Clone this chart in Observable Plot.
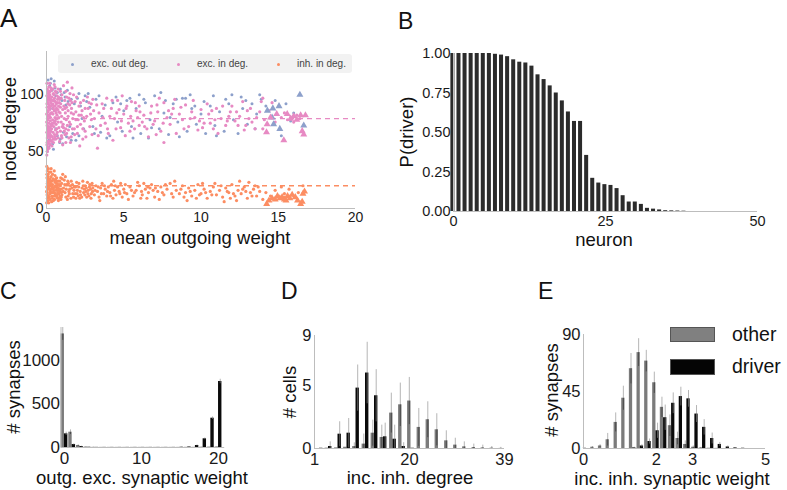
<!DOCTYPE html>
<html><head><meta charset="utf-8">
<script src="https://cdn.jsdelivr.net/npm/d3@7"></script>
<script src="https://cdn.jsdelivr.net/npm/@observablehq/plot@0.6"></script>
<style>
html,body{margin:0;padding:0;background:#fff;overflow:hidden;width:787px;height:490px;}
body{position:relative;font-family:"Liberation Sans",Arial,sans-serif;color:#111;}
.panel{position:absolute;}
.lbl{position:absolute;line-height:1;color:#111;}
.ax{position:absolute;font-size:18.5px;white-space:nowrap;line-height:1;transform:translate(-50%,-50%);}
.axv{transform:translate(-50%,-50%) rotate(-90deg);}
.lgA{position:absolute;font-size:10px;color:#444;line-height:1;white-space:nowrap;}
</style></head><body>
<div id="pA" class="panel" style="left:0;top:0"></div>
<div id="pB" class="panel" style="left:380px;top:0"></div>
<div id="pC" class="panel" style="left:0;top:270px"></div>
<div id="pD" class="panel" style="left:265px;top:270px"></div>
<div id="pE" class="panel" style="left:520px;top:270px"></div>
<script>
// ---------- Panel A data (mean outgoing weight, node degree) ----------
const excOutDeg = [[0.05,50],[0.1,113],[0.15,54],[0.2,108],[0.3,114],[0.4,57],[0.5,112],[0.35,104],[0.45,52],[0.6,99],[0.8,97],[1.0,95],[1.2,98],[1.4,94],[0.7,64],[0.9,61],[1.1,67],[1.3,63],[1.6,96],[1.8,92],[2.0,97],[2.2,90],[1.7,66],[2.1,64],[2.4,70],[2.6,94],[2.8,89],[3.0,72],[3.2,96],[3.5,67],[3.8,91],[4.1,64],[4.3,93],[4.6,76],[4.9,68],[5.2,95],[5.5,72],[5.8,88],[6.1,66],[6.4,93],[6.7,78],[7.0,99],[7.3,70],[7.6,84],[7.9,65],[8.2,92],[8.5,76],[8.8,97],[9.1,68],[9.4,88],[9.7,74],[10.0,83],[10.3,66],[10.6,90],[10.9,73],[11.2,85],[11.5,68],[11.8,92],[12.1,78],[12.4,66],[12.7,88],[13.0,74],[13.3,92],[13.6,83],[13.9,96],[14.2,90],[3.6,81],[5.0,86],[6.8,71],[8.0,80],[9.6,90],[2.3,79],[1.5,72],[0.6,70],[0.4,88],[0.9,105],[1.9,60],[2.7,101],[4.5,98],[6.0,100],[7.4,102],[9.0,97],[10.8,99],[12.0,100],[12.9,95],[13.5,70],[11.0,64],[8.6,63],[5.6,62],[15.8,77],[15.5,92],[16.0,84],
[0.25,110],[0.55,106],[0.7,102],[0.95,100],[1.15,102],[1.35,104],[0.85,58],[1.05,57],[1.6,60],[2.5,99],[3.1,66],[3.4,99],[3.9,62],[4.8,92],[5.4,97],[6.3,96],[6.6,62],[7.7,95],[8.4,96],[9.3,100],[10.2,94],[11.6,96],[12.6,98],[13.8,100],[14.8,95],[15.2,64],[1.25,91],[2.1,101],[0.15,60],[0.5,95]];
const excInDeg = [[0.02,47],[0.08,52],[0.03,56],[0.12,59],[0.05,62],[0.15,64],[0.02,67],[0.1,69],[0.2,71],[0.04,73],[0.14,75],[0.25,77],[0.06,79],[0.18,81],[0.01,83],[0.11,85],[0.22,87],[0.04,89],[0.16,91],[0.27,93],[0.07,95],[0.19,97],[0.02,99],[0.12,101],[0.24,103],[0.06,105],[0.15,107],[0.03,110],[0.28,68],[0.3,84],[0.29,96],[0.27,60],[0.09,64],[0.21,66],[0.1,78],[0.2,88],[0.1,93],[0.22,100],[0.03,92],[0.07,86],[0.13,72],[0.28,74],[0.19,57],[0.26,90],[0.26,80],[0.01,76],[0.13,82],[0.23,95],[0.09,98],[0.17,102],[0.04,58],[0.1,54],[0.21,62],[0.15,68],[0.07,71],[0.3,64],[0.3,104],
[0.35,55],[0.45,58],[0.6,61],[0.38,63],[0.52,65],[0.7,67],[0.33,70],[0.47,72],[0.62,74],[0.75,76],[0.4,78],[0.55,80],[0.68,82],[0.36,84],[0.5,86],[0.65,88],[0.78,90],[0.42,92],[0.57,94],[0.72,96],[0.34,98],[0.48,100],[0.63,102],[0.4,105],[0.55,107],[0.8,71],[0.8,85],[0.58,69],[0.44,88],[0.7,93],[0.6,79],[0.75,62],[0.46,95],[0.38,75],[0.52,76],[0.66,70],[0.42,67],[0.56,90],[0.68,99],[0.36,91],[0.5,61],[0.62,84],
[0.85,59],[1.0,62],[1.2,65],[0.9,68],[1.1,71],[1.35,73],[0.95,76],[1.15,79],[1.4,81],[0.88,84],[1.05,87],[1.3,89],[0.92,92],[1.18,95],[1.45,97],[1.0,100],[1.25,103],[1.4,86],[1.3,66],[1.1,108],[1.5,91],[1.48,76],[0.98,81],[1.22,84],[1.35,111],[0.85,96],[1.08,74],[1.28,78],[0.9,103],
[1.6,63],[1.8,70],[2.0,66],[2.2,74],[1.7,79],[1.9,85],[2.1,90],[2.4,95],[1.65,93],[2.6,81],[2.8,72],[2.5,68],[2.3,86],[2.9,92],[1.75,100],[2.05,78],[2.7,88],[2.95,65],[1.55,58],[2.35,61],[2.65,98],[2.15,55],[1.85,94],[2.45,77],[2.85,83],[3.0,96],[1.6,84],[2.25,82],
[3.2,70],[3.4,84],[3.6,92],[3.8,75],[4.0,66],[4.2,88],[4.4,79],[4.6,95],[4.8,71],[5.0,83],[5.2,90],[5.4,68],[5.6,77],[5.8,86],[6.0,73],[3.3,53],[4.3,60],[3.9,97],[4.7,87],[5.1,64],[5.5,94],[5.9,80],[3.1,79],[4.1,81],[5.3,75],[3.7,88],[4.9,99],[6.0,90],[3.5,73],[4.5,70],[5.7,70],
[6.3,82],[6.5,70],[6.8,90],[7.0,77],[7.2,85],[7.4,68],[7.6,93],[7.8,80],[8.0,74],[8.2,88],[8.4,66],[8.6,83],[8.8,78],[9.0,91],[9.2,72],[9.4,85],[9.6,80],[9.8,69],[10.0,87],[6.6,63],[7.3,97],[8.3,96],[9.5,95],[6.9,74],[7.9,86],[8.9,70],[9.9,77],[7.6,58],[7.1,65],[6.2,76],
[10.2,75],[10.5,83],[10.8,70],[11.0,88],[11.3,79],[11.6,73],[11.9,85],[12.2,77],[12.5,81],[12.8,69],[13.0,86],[13.3,76],[13.6,80],[13.9,94],[10.4,92],[11.1,66],[12.0,90],[12.7,94],[13.5,70],[10.9,78],[11.8,81],[12.4,73],[13.1,79],[13.8,85],
[14.1,78],[14.4,86],[14.8,76],[15.2,80],[15.6,78],[16.0,76],[16.4,79],[14.6,93],[15.4,84],[16.2,82],[14.0,97],[15.8,80],
[0.05,50],[0.16,53],[0.24,56],[0.33,59],[0.43,61],[0.55,63],[0.66,65],[0.09,66],[0.18,70],[0.26,72],[0.35,73],[0.45,75],[0.57,77],[0.69,79],[0.8,80],[0.08,81],[0.24,83],[0.42,83],[0.58,86],[0.73,87],[0.9,89],[0.14,89],[0.3,90],[0.47,90],[0.64,92],[0.83,93],[0.11,96],[0.37,95],[0.52,97],[0.78,98],[0.2,99],[0.44,101],[0.58,103],[0.75,105],[0.28,106],[0.1,103],[0.5,109],[0.2,110],[0.97,64],[1.15,68],[1.02,72],[1.25,70],[1.42,69],[1.55,74],[1.2,88],[1.38,92],[1.55,95],[1.62,88],[1.75,83],[1.9,78],[2.0,72],[2.1,82],[1.68,70],[1.82,65],[1.95,98],[2.2,93],[2.35,70],[2.5,88],[2.4,80],[1.12,90],[0.95,97],[1.3,98],[1.52,101],[1.65,106],[1.05,56],[1.25,58],[1.45,62],[2.55,63],[2.75,93],[2.9,78],[3.05,86],[3.25,91],[3.35,64],[3.65,80],[3.95,70],[4.25,95],[4.55,84],[4.85,77],[5.15,88],[5.45,81],[5.75,93],[6.05,85],[6.35,72],[6.75,84],[7.15,91],[7.55,75],[8.1,83],[8.7,89],[9.3,79],[10.1,71],[10.7,86],[11.4,90],[12.3,85],[13.2,88],[14.0,70],[10.6,75],[11.7,77],[12.9,73]];
const inhInDeg = [[0.02,37],[0.05,33],[0.1,30],[0.03,27],[0.15,25],[0.05,22],[0.2,20],[0.08,17],[0.25,15],[0.04,12],[0.18,10],[0.1,7],[0.3,28],[0.35,24],[0.4,21],[0.45,18],[0.5,14],[0.55,11],[0.38,9],[0.6,26],[0.65,22],[0.7,19],[0.75,16],[0.8,13],[0.85,24],[0.9,20],[0.95,17],[1.0,12],[0.28,32],[0.12,35],[0.22,13],[0.32,17],[0.48,25],[0.58,20],[0.68,12],[0.78,21],[0.88,15],[0.98,22],[0.15,5],[0.45,7],[0.72,9],[0.02,19],[0.06,9],[0.14,22],[0.24,26],[0.34,11],[0.52,8],[0.62,16],[0.82,9],[0.92,27],[0.01,15],[0.09,26],[0.19,17],[0.29,21],[0.42,14],[0.55,29],[0.66,18],[0.76,24],[0.86,11],[0.96,14],
[1.1,18],[1.2,14],[1.3,21],[1.4,11],[1.5,17],[1.6,24],[1.7,13],[1.8,19],[1.9,9],[2.0,16],[2.1,22],[2.2,12],[2.3,18],[2.4,14],[2.5,20],[2.6,10],[2.7,16],[2.8,21],[2.9,13],[3.0,18],[1.15,25],[1.35,8],[1.55,20],[1.75,10],[1.95,23],[2.15,9],[2.35,24],[2.55,15],[2.75,11],[2.95,22],[1.05,30],[1.25,10],[1.45,15],[1.65,18],[1.85,13],[2.05,11],[2.45,17],[2.65,23],[2.85,17],
[3.1,12],[3.2,20],[3.3,15],[3.4,10],[3.5,18],[3.6,22],[3.7,13],[3.8,17],[3.9,11],[4.0,19],[4.1,14],[4.2,21],[4.3,9],[4.4,16],[4.5,12],[4.6,19],[4.7,15],[4.8,22],[4.9,10],[5.0,17],[5.2,13],[5.4,19],[5.6,11],[5.8,16],[6.0,20],[6.2,12],[6.4,17],[6.6,14],[6.8,21],[7.0,10],[5.3,8],[5.9,23],[6.5,9],[4.35,24],[5.7,14],[6.3,22],[6.9,16],[3.45,7],[5.1,21],[6.1,9],[6.7,18],
[7.2,15],[7.4,19],[7.6,12],[7.8,17],[8.0,22],[8.2,10],[8.4,16],[8.6,13],[8.8,20],[9.0,14],[9.2,18],[9.4,11],[9.6,16],[9.8,21],[10.0,13],[10.2,17],[10.4,9],[10.6,15],[10.8,19],[11.0,12],[11.2,16],[11.4,10],[11.6,18],[11.8,14],[12.0,21],[12.2,11],[12.4,16],[12.6,13],[12.8,19],[13.0,9],[13.2,14],[13.4,17],[13.6,11],[13.8,15],[14.0,8],[7.3,8],[8.3,24],[9.1,7],[10.1,22],[11.5,6],[12.5,24],[13.5,20],[8.9,10],[9.9,12],[10.9,22],[11.9,9],[12.9,15],[7.7,21],[13.1,23],[12.3,7],
[14.2,14],[14.5,11],[14.8,16],[15.1,9],[15.4,13],[15.7,17],[16.0,11],[16.3,14],[16.6,20],[15.2,19],
[0.03,30],[0.11,28],[0.2,24],[0.27,22],[0.37,19],[0.47,16],[0.57,13],[0.67,10],[0.77,7],[0.07,24],[0.16,19],[0.26,17],[0.36,14],[0.46,11],[0.56,23],[0.66,27],[0.76,18],[0.86,21],[0.96,10],[0.05,14],[0.13,11],[0.23,8],[0.33,6],[0.43,26],[0.53,19],[0.63,24],[0.73,14],[0.83,17],[0.93,8],[0.01,5],[0.19,32],[0.39,30],[1.08,15],[1.18,21],[1.28,17],[1.38,24],[1.48,13],[1.58,9],[1.68,21],[1.78,16],[1.88,19],[1.98,13],[2.08,19],[2.18,15],[2.28,10],[2.38,20],[2.48,12],[2.58,18],[2.68,13],[2.78,19],[2.88,9],[2.98,15],[3.15,16],[3.35,19],[3.55,13],[3.75,20],[3.95,15],[4.15,11],[4.45,20],[4.75,13],[5.05,14],[5.5,16],[6.15,15],[6.55,19],[7.05,18],[7.5,14],[8.1,13],[8.7,17],[9.3,15],[9.7,9],[10.3,14],[10.7,12],[11.3,20],[11.7,15],[12.1,13],[12.7,17],[13.3,11],[13.7,19],[1.02,26],[1.22,28],[1.42,22],[0.5,33],[0.3,35]];
const excOutTri = [[16.4,100],[15.05,90],[14.65,88],[14.3,86],[14.6,80],[15.1,70],[16.65,73],[14.7,74]];
const excInTri = [[14.28,74],[14.24,67],[14.5,80],[15.36,60],[15.58,83],[16.0,81],[16.2,78],[16.45,82],[16.76,82],[16.65,65],[16.55,68],[14.9,83],[15.8,79]];
const inhInTri = [[14.25,4],[14.4,7],[14.6,9],[14.8,8],[14.95,11],[15.1,9],[15.25,10],[15.4,8],[15.6,11],[15.75,9],[15.9,12],[16.1,10],[16.25,7],[16.45,4],[16.6,13],[16.7,15],[16.55,6],[15.5,7]];
const excMeanDeg = 79;
const inhMeanDeg = 20;
const seriesA = ["exc. out deg.", "exc. in deg.", "inh. in deg."];

// ---------- Panel B data ----------
const neuronIdx = [0,1,2,3,4,5,6,7,8,9,10,11,12,13,14,15,16,17,18,19,20,21,22,23,24,25,26,27,28,29,30,31,32,33,34,35,36,37,38];
const pDriver = [1.00,1.00,1.00,1.00,1.00,1.00,1.00,0.995,0.99,0.98,0.96,0.945,0.94,0.92,0.865,0.835,0.795,0.75,0.70,0.63,0.57,0.57,0.355,0.21,0.18,0.17,0.165,0.145,0.10,0.06,0.06,0.045,0.02,0.015,0.01,0.005,0.004,0.003,0.002];

// ---------- Panel C data ----------
const weightBins = [0,1,2,3,4,5,6,7,8,9,10,11,12,13,14,15,16,17,18,19,20];
const cOther     = [1306,176,23,5,2,1.5,1.5,1.5,1.5,1.5,1.5,1.5,1.5,1.5,1.5,1.5,2,2,3,4,6];
const cOtherErr  = [74,27,8,3,1,0,0,0,0,0,0,0,0,0,0,0,0,0,1,1,2];
const cDriver    = [157,34,11,3,1.5,1.5,1.5,1.5,1.5,1.5,1.5,1.5,1.5,1.5,1.5,3,6,23,100,337,759];
const cDriverErr = [19,8,4,1,0,0,0,0,0,0,0,0,0,0,0,2,4,6,10,15,26];

// ---------- Panel D data ----------
const degBins    = [2.0,3.8,5.7,7.5,9.3,11.2,13.0,14.8,16.7,18.5,20.3,22.2,24.0,25.8,27.7,29.5,31.3,33.2,35.0,36.8,38.6];
const dOther     = [0,0.03,0.05,0.1,0.15,0.35,1.22,0.88,2.82,3.48,3.78,1.68,2.29,1.49,0.61,0.27,0.13,0.08,0.05,0.03,0.01];
const dOtherErr  = [0,0,0,0,0.3,0.8,1.04,0.98,1.59,1.73,1.88,1.51,1.43,1.28,0.8,0.55,0.4,0.27,0.22,0.13,0.08];
const dDriver    = [0.02,0.16,1.14,1.22,4.81,6.01,4.2,0.93,0.74,0.16,0.02,0,0,0,0,0,0,0,0,0,0];
const dDriverErr = [0,0.37,0.99,1.17,1.84,2.45,2.08,1.09,1.12,0.3,0,0,0,0,0,0,0,0,0,0,0];

// ---------- Panel E data ----------
const wBins      = [0.08,0.29,0.50,0.71,0.93,1.14,1.35,1.56,1.77,1.99,2.20,2.42,2.63,2.84,3.06,3.27,3.49,3.70,3.92,4.13,4.34];
const eOther     = [0.3,1,2,6.9,20.6,39.7,63,75.7,69,51.9,32.5,18,7.9,3.2,1,0.4,0.2,0.1,0,0,0];
const eOtherErr  = [0,0.5,1,5,7.5,9.5,12,11,8.5,8.4,8,8.5,5,2.8,1,0.5,0,0,0,0,0];
const eDriver    = [0,0,0,0,0,0,0.5,2,5.5,14,24.3,35.7,41,39.2,27.2,16.7,7.9,3.2,1.2,0.5,0.2];
const eDriverErr = [0,0,0,0,0,0,0.5,1,2,6,10,8.2,7.4,6.6,6.7,6.1,4.3,1.6,0.8,0.3,0];
const legendE = ["other", "driver"];

// ---------- styling ----------
const FONT = "Liberation Sans, Arial, sans-serif";
const BLUE = "#8da0cb", PINK = "#e78ac3", ORANGE = "#fc8d62";
const SPINE = "#bdbdbd";
const GRAYBAR = "#7b7b7b", BLACKBAR = "#0a0a0a";
const ERRUP = "#b5b5b5";
const pt = a => ({x: a[0], y: a[1]});

function baseStyle(fs) {
  return {fontFamily: FONT, fontSize: fs + "px", color: "#1a1a1a", background: "none", overflow: "visible"};
}

// ---------- Panel A ----------
const plotA = Plot.plot({
  width: 370, height: 245, marginLeft: 46, marginRight: 15, marginTop: 51, marginBottom: 37,
  style: baseStyle(14),
  x: {domain: [0, 20]}, y: {domain: [0, 138]},
  marks: [
    Plot.ruleY([excMeanDeg], {x1: 0, x2: 20, stroke: PINK, strokeWidth: 1.3, strokeDasharray: "5,4"}),
    Plot.ruleY([inhMeanDeg], {x1: 0, x2: 20, stroke: ORANGE, strokeWidth: 1.3, strokeDasharray: "5,4"}),
    Plot.dot(excOutDeg.map(pt), {x: "x", y: "y", r: 1.5, fill: BLUE}),
    Plot.dot(excInDeg.map(pt), {x: "x", y: "y", r: 1.6, fill: PINK}),
    Plot.dot(inhInDeg.map(pt), {x: "x", y: "y", r: 1.6, fill: ORANGE}),
    Plot.dot(excOutTri.map(pt), {x: "x", y: "y", r: 2.6, symbol: "triangle", fill: BLUE}),
    Plot.dot(excInTri.map(pt), {x: "x", y: "y", r: 2.6, symbol: "triangle", fill: PINK}),
    Plot.dot(inhInTri.map(pt), {x: "x", y: "y", r: 2.6, symbol: "triangle", fill: ORANGE}),
    Plot.ruleX([0], {stroke: SPINE}),
    Plot.ruleY([0], {stroke: SPINE}),
    Plot.axisX({ticks: [0, 5, 10, 15, 20], tickSize: 0, tickPadding: 4, label: null}),
    Plot.axisY({ticks: [0, 50, 100], tickSize: 0, tickPadding: 3, label: null})
  ]
});
document.getElementById("pA").append(plotA);

// ---------- Panel B ----------
const rowsB = neuronIdx.map((i, k) => ({i, p: pDriver[k]}));
const plotB = Plot.plot({
  width: 400, height: 250, marginLeft: 73, marginRight: 23, marginTop: 53, marginBottom: 39,
  style: baseStyle(14.5),
  x: {domain: [0, 50]}, y: {domain: [0, 1]},
  marks: [
    Plot.rect(rowsB, {x1: d => d.i - 0.43, x2: d => d.i + 0.23, y1: () => 0, y2: "p", fill: "#2b2b2b"}),
    Plot.ruleX([0], {stroke: SPINE}),
    Plot.ruleY([0], {stroke: SPINE}),
    Plot.axisX({ticks: [0, 25, 50], tickSize: 0, tickPadding: 4, label: null}),
    Plot.axisY({ticks: [0, 0.25, 0.5, 0.75, 1], tickFormat: ".2f", tickSize: 0, tickPadding: 3, label: null})
  ]
});
document.getElementById("pB").append(plotB);

// ---------- grouped bar helper ----------
function groupedMarks(bins, other, otherErr, driver, driverErr, w) {
  const rows = bins.map((b, k) => ({b, o: other[k], oe: otherErr[k], d: driver[k], de: driverErr[k]}));
  const eo = rows.filter(r => r.oe > 0), ed = rows.filter(r => r.de > 0);
  return [
    Plot.rect(rows, {x1: r => r.b - w, x2: r => r.b, y1: () => 0, y2: "o", fill: GRAYBAR}),
    Plot.rect(rows, {x1: r => r.b, x2: r => r.b + w, y1: () => 0, y2: "d", fill: BLACKBAR}),
    Plot.ruleX(eo, {x: r => r.b - w / 2, y1: "o", y2: r => r.o + r.oe, stroke: ERRUP, strokeWidth: 1}),
    Plot.ruleX(eo, {x: r => r.b - w / 2, y1: r => Math.max(0, r.o - r.oe), y2: "o", stroke: "#4a4a4a", strokeWidth: 1}),
    Plot.ruleX(ed, {x: r => r.b + w / 2, y1: "d", y2: r => r.d + r.de, stroke: ERRUP, strokeWidth: 1}),
    Plot.ruleX(ed, {x: r => r.b + w / 2, y1: r => Math.max(0, r.d - r.de), y2: "d", stroke: "#5a5a5a", strokeWidth: 1})
  ];
}

// ---------- Panel C ----------
const plotC = Plot.plot({
  width: 265, height: 220, marginLeft: 60.5, marginRight: 40.8, marginTop: 57, marginBottom: 43,
  style: baseStyle(17),
  x: {domain: [-0.45, 20.8]}, y: {domain: [0, 1380]},
  marks: [
    ...groupedMarks(weightBins, cOther, cOtherErr, cDriver, cDriverErr, 0.44),
    Plot.ruleX([-0.45], {stroke: SPINE}),
    Plot.ruleY([0], {stroke: SPINE}),
    Plot.axisX({ticks: [0, 10, 20], tickFormat: "d", tickSize: 0, tickPadding: 4, label: null}),
    Plot.axisY({ticks: [0, 500, 1000], tickFormat: "d", tickSize: 0, tickPadding: 1, label: null})
  ]
});
document.getElementById("pC").append(plotC);

// ---------- Panel D ----------
const plotD = Plot.plot({
  width: 270, height: 220, marginLeft: 49, marginRight: 31, marginTop: 65, marginBottom: 42,
  style: baseStyle(16.5),
  x: {domain: [1, 39]}, y: {domain: [0, 9]},
  marks: [
    ...groupedMarks(degBins, dOther, dOtherErr, dDriver, dDriverErr, 0.68),
    Plot.ruleX([1], {stroke: SPINE}),
    Plot.ruleY([0], {stroke: SPINE}),
    Plot.axisX({ticks: [1, 20, 39], tickFormat: "d", tickSize: 0, tickPadding: 5, label: null}),
    Plot.axisY({ticks: [0, 5, 9], tickFormat: "d", tickSize: 0, tickPadding: 3, label: null})
  ]
});
document.getElementById("pD").append(plotD);

// ---------- Panel E ----------
const plotE = Plot.plot({
  width: 267, height: 220, marginLeft: 63, marginRight: 22, marginTop: 64, marginBottom: 42,
  style: baseStyle(16.5),
  x: {domain: [0, 5]}, y: {domain: [0, 90]},
  marks: [
    ...groupedMarks(wBins, eOther, eOtherErr, eDriver, eDriverErr, 0.09),
    Plot.ruleX([0], {stroke: SPINE}),
    Plot.ruleY([0], {stroke: SPINE}),
    Plot.axisX({ticks: [0, 2, 3, 5], tickFormat: "d", tickSize: 0, tickPadding: 5, label: null}),
    Plot.axisY({ticks: [0, 45, 90], tickFormat: "d", tickSize: 0, tickPadding: 3, label: null})
  ]
});
document.getElementById("pE").append(plotE);

// ---------- HTML text: panel letters, axis titles, legends ----------
function addText(txt, cls, css) {
  const d = document.createElement("div");
  d.className = cls; d.style.cssText = css; d.textContent = txt;
  document.body.append(d);
  return d;
}
addText("A", "lbl", "left:0px;top:5px;font-size:26px");
addText("B", "lbl", "left:398px;top:10px;font-size:23px");
addText("C", "lbl", "left:0px;top:280px;font-size:23px");
addText("D", "lbl", "left:281px;top:280px;font-size:23px");
addText("E", "lbl", "left:538px;top:280px;font-size:23px");

addText("mean outgoing weight", "ax", "left:200px;top:238px");
addText("node degree", "ax axv", "left:10px;top:129px");
addText("neuron", "ax", "left:604px;top:240px");
addText("P(driver)", "ax axv", "left:407px;top:132px");
addText("outg. exc. synaptic weight", "ax", "left:142px;top:478px");
addText("# synapses", "ax axv", "left:14px;top:387px");
addText("inc. inh. degree", "ax", "left:410px;top:478px");
addText("# cells", "ax axv", "left:290px;top:392px");
addText("inc. inh. synaptic weight", "ax", "left:672px;top:479px");
addText("# synapses", "ax axv", "left:552px;top:390px");

// legend A
const lgBg = document.createElement("div");
lgBg.style.cssText = "position:absolute;left:58px;top:54px;width:294px;height:19px;background:#f2f2f2;border-radius:3px";
document.body.append(lgBg);
const lgCols = [BLUE, PINK, ORANGE], lgDotX = [72, 178, 278], lgTxtX = [91, 197, 297];
seriesA.forEach((s, k) => {
  const dot = document.createElement("div");
  dot.style.cssText = `position:absolute;left:${lgDotX[k]-1.5}px;top:62.5px;width:3px;height:3px;border-radius:50%;background:${lgCols[k]}`;
  document.body.append(dot);
  addText(s, "lgA", `left:${lgTxtX[k]}px;top:59px`);
});

// legend E
const lgE = [["#808080", 327, 15], ["#050505", 358.5, 16]];
legendE.forEach((s, k) => {
  const r = document.createElement("div");
  r.style.cssText = `position:absolute;left:670px;top:${lgE[k][1]}px;width:45px;height:${lgE[k][2]}px;background:${lgE[k][0]};border:1px solid #555;box-sizing:border-box`;
  document.body.append(r);
  addText(s, "lbl", `left:732px;top:${lgE[k][1] + lgE[k][2]/2 - 10}px;font-size:19.5px`);
});
</script>
</body></html>
